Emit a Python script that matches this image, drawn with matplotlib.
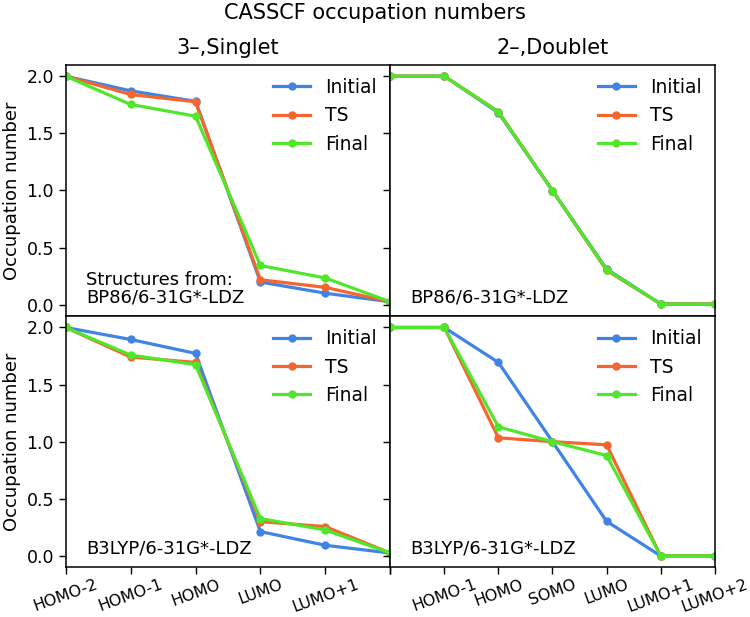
import matplotlib
matplotlib.use('Agg')
import matplotlib.pyplot as plt

labels_singlet = ['HOMO-2', 'HOMO-1', 'HOMO', 'LUMO', 'LUMO+1', '']
labels_doublet = ['', 'HOMO-1', 'HOMO', 'SOMO', 'LUMO', 'LUMO+1', 'LUMO+2']

# 3-, Singlet, BP86 structures
bp86_singlet_initial = [2.0, 1.872, 1.780, 0.198, 0.100, 0.025]
bp86_singlet_ts = [2.0, 1.840, 1.776, 0.218, 0.151, 0.025]
bp86_singlet_final = [2.0, 1.753, 1.650, 0.343, 0.233, 0.025]

# 2-, Doublet, BP86 structures
bp86_doublet_initial = [2.0, 2.0, 1.680, 0.998, 0.312, 0.006, 0.005]
bp86_doublet_ts = [2.0, 2.0, 1.690, 0.998, 0.300, 0.006, 0.005]
bp86_doublet_final = [2.0, 2.0, 1.688, 0.998, 0.306, 0.006, 0.005]

# 3-, Singlet, B3LYP structures
b3lyp_singlet_initial = [2.0, 1.895, 1.773, 0.213, 0.093, 0.025]
b3lyp_singlet_ts = [2.0, 1.741, 1.694, 0.300, 0.257, 0.025]
b3lyp_singlet_final = [2.0, 1.759, 1.674, 0.327, 0.227, 0.025]

# 2-, Doublet, B3LYP structures
b3lyp_doublet_initial = [2.0, 2.0, 1.694, 1.0, 0.303, 0.0, 0.0]
b3lyp_doublet_ts = [2.0, 2.0, 1.034, 1.0, 0.973, 0.0, 0.0]
b3lyp_doublet_final = [2.0, 2.0, 1.130, 1.0, 0.879, 0.0, 0.0]

series_names = ['Initial', 'TS', 'Final']
colors = ['#3f84e5', '#f5652d', '#4fe62c']

panels = [
    [(bp86_singlet_initial, bp86_singlet_ts, bp86_singlet_final),
     (bp86_doublet_initial, bp86_doublet_ts, bp86_doublet_final)],
    [(b3lyp_singlet_initial, b3lyp_singlet_ts, b3lyp_singlet_final),
     (b3lyp_doublet_initial, b3lyp_doublet_ts, b3lyp_doublet_final)],
]
notes = [['Structures from:\nBP86/6-31G*-LDZ', 'BP86/6-31G*-LDZ'],
         ['B3LYP/6-31G*-LDZ', 'B3LYP/6-31G*-LDZ']]

fig, axes = plt.subplots(2, 2, figsize=(7.5, 6.17), dpi=100)
fig.subplots_adjust(left=0.0876, right=0.953, top=0.895, bottom=0.0805,
                    hspace=0, wspace=0)

for r in range(2):
    for c in range(2):
        ax = axes[r][c]
        xlabels = labels_singlet if c == 0 else labels_doublet
        x = list(range(len(xlabels)))
        for data, name, col in zip(panels[r][c], series_names, colors):
            ax.plot(x, data, '-o', color=col, lw=2.3, ms=5, label=name)
        ax.set_xlim(0, len(xlabels) - 1)
        ax.set_ylim(-0.1, 2.1)
        ax.set_yticks([0.0, 0.5, 1.0, 1.5, 2.0])
        ax.tick_params(direction='out', length=5, width=1, labelsize=12.5)
        ax.set_xticks(x)
        if r == 1:
            ax.set_xticklabels(xlabels, rotation=20, ha='center', fontsize=11.5)
            ax.tick_params(axis='x', pad=2)
        else:
            ax.set_xticklabels([])
            ax.tick_params(axis='x', length=0)
        if c == 0:
            ax.set_ylabel('Occupation number', fontsize=13)
        else:
            ax.set_yticklabels([])
        for s in ax.spines.values():
            s.set_linewidth(1.1)
        ax.legend(loc='upper right', frameon=False, fontsize=13.5,
                  handlelength=2.0, borderaxespad=0.3)
        ax.text(0.062, 0.04, notes[r][c], transform=ax.transAxes,
                fontsize=13, va='bottom', ha='left', linespacing=0.95)

axes[0][0].set_title('3\u2013,Singlet', fontsize=15, pad=8)
axes[0][1].set_title('2\u2013,Doublet', fontsize=15, pad=8)
fig.suptitle('CASSCF occupation numbers', fontsize=15, y=0.995, va='top')

fig.savefig('out.png', dpi=100)
